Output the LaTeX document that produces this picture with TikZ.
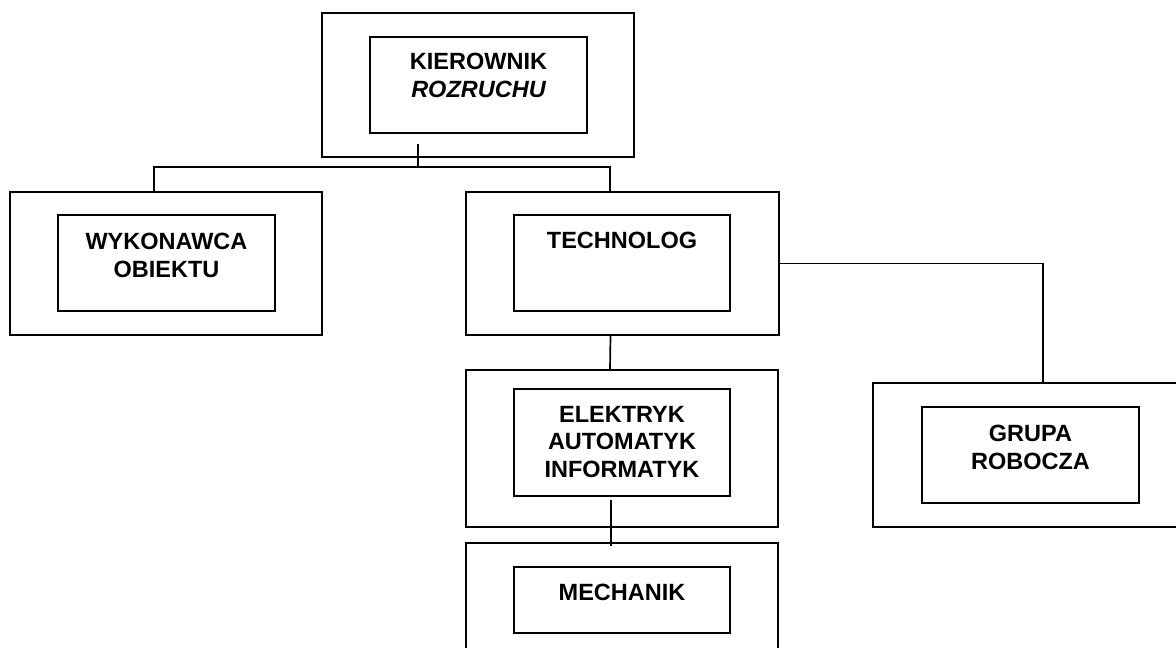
\documentclass[tikz,border=0pt]{standalone}
\usepackage{fontspec}
\setmainfont{Liberation Sans}
\begin{document}
\begin{tikzpicture}[x=1pt,y=-1pt,
  box/.style={draw=black, line width=1.7pt, rectangle, inner sep=0pt},
  lbl/.style={anchor=north, inner sep=0pt, align=center,
    font=\fontsize{23.5pt}{27.5pt}\selectfont\bfseries},
  conn/.style={draw=black, line width=1.7pt}]
\useasboundingbox (0,0) rectangle (1176,648);
\clip (0,0) rectangle (1176,648);
% Kierownik
\node[box, minimum width=312pt, minimum height=144pt] (kOut) at (478,85) {};
\node[box, minimum width=217pt, minimum height=96pt] (kIn) at (478.5,85) {};
\node[lbl] (kTxt) at (478.5,53) {KIEROWNIK\\\itshape ROZRUCHU};
% Wykonawca
\node[box, minimum width=312pt, minimum height=143pt] (wOut) at (166,263.5) {};
\node[box, minimum width=217pt, minimum height=96pt] (wIn) at (166.5,263) {};
\node[lbl] (wTxt) at (166.5,233) {WYKONAWCA\\OBIEKTU};
% Technolog
\node[box, minimum width=313pt, minimum height=143pt] (tOut) at (622.5,263.5) {};
\node[box, minimum width=216pt, minimum height=96pt] (tIn) at (622,263) {};
\node[lbl] (tTxt) at (622,232) {TECHNOLOG};
% Elektryk
\node[box, minimum width=312pt, minimum height=157pt] (eOut) at (622,448.5) {};
\node[box, minimum width=216pt, minimum height=107pt] (eIn) at (622,442.5) {};
\node[lbl] (eTxt) at (622,406) {ELEKTRYK\\AUTOMATYK\\INFORMATYK};
% Mechanik
\node[box, minimum width=312pt, minimum height=156pt] (mOut) at (622,621) {};
\node[box, minimum width=216pt, minimum height=66pt] (mIn) at (622,600) {};
\node[lbl] (mTxt) at (622,584) {MECHANIK};
% Grupa robocza
\node[box, minimum width=312pt, minimum height=144pt] (gOut) at (1029,455) {};
\node[box, minimum width=217pt, minimum height=96pt] (gIn) at (1030.5,455) {};
\node[lbl] (gTxt) at (1030.5,425) {GRUPA\\ROBOCZA};
% connectors
\coordinate (kTail) at (418,144);
\coordinate (bus) at (418,167);
\draw[conn] (kTail) -- (bus);
\draw[conn] ([xshift=-12pt]wOut.north) |- (bus) -| ([xshift=-12.5pt]tOut.north);
\draw[conn] ([xshift=-12pt]tOut.south) -- ([xshift=-12pt]eOut.north);
\coordinate (eTail) at (611,500);
\draw[conn] (eTail) -- ([xshift=-11pt]mOut.north) -- ++(0,4);
\draw[conn] (tOut.east) -| ([xshift=14pt]gOut.north);
\end{tikzpicture}
\end{document}
